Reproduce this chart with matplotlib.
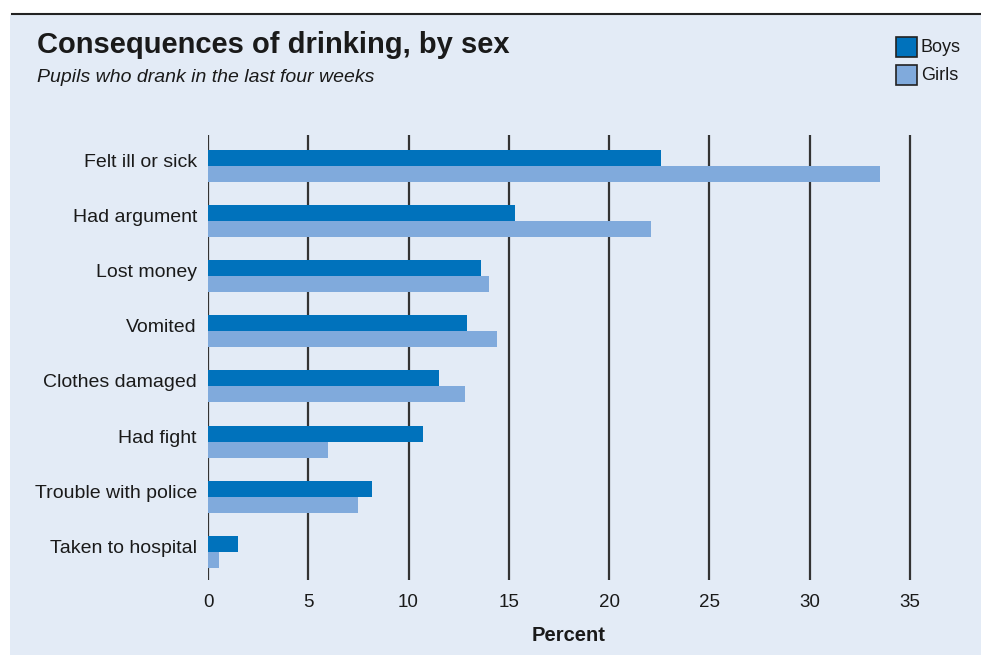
import matplotlib.pyplot as plt
import numpy as np
from matplotlib.patches import Rectangle
from matplotlib.lines import Line2D

# data
categories = ['Felt ill or sick', 'Had argument', 'Lost money', 'Vomited',
              'Clothes damaged', 'Had fight', 'Trouble with police', 'Taken to hospital']
boys = [22.6, 15.3, 13.6, 12.9, 11.5, 10.7, 8.2, 1.5]
girls = [33.5, 22.1, 14.0, 14.4, 12.8, 6.0, 7.5, 0.55]
xticks = [0, 5, 10, 15, 20, 25, 30, 35]

plt.rcParams['font.family'] = ['Liberation Sans', 'DejaVu Sans']

bg = '#E3EBF6'
boy_col = '#0072BC'
girl_col = '#80AADC'
txt = '#1a1a1a'

fig = plt.figure(figsize=(9.81, 6.55), dpi=100)
fig.patch.set_facecolor('white')

# light panel and top rule
fig.patches.append(Rectangle((10 / 981, 0), 1, 1 - 15 / 655, transform=fig.transFigure,
                             facecolor=bg, edgecolor='none', zorder=-10))
fig.lines.append(Line2D([12 / 981, 1], [1 - 14 / 655, 1 - 14 / 655], transform=fig.transFigure,
                        color='#222222', linewidth=1.5))

ax = fig.add_axes([208 / 981, 1 - 580 / 655, (930 - 208) / 981, (580 - 135) / 655])
ax.set_facecolor('none')

y = np.arange(len(categories))
h = 0.29
ax.barh(y - h / 2, boys, height=h, color=boy_col, zorder=3)
ax.barh(y + h / 2, girls, height=h, color=girl_col, zorder=3)

ax.set_xlim(0, 36)
ax.set_ylim(7.51, -0.56)
ax.set_xticks(xticks)
ax.set_xticklabels([str(t) for t in xticks], fontsize=13.5, color=txt)
# labels sit slightly above the group centre, as in the original
ax.set_yticks(y - 0.1)
ax.set_yticklabels(categories, fontsize=14, color=txt)
ax.tick_params(axis='both', length=0)
ax.tick_params(axis='x', pad=10)
ax.tick_params(axis='y', pad=8)
for s in ax.spines.values():
    s.set_visible(False)
ax.grid(axis='x', color='#333333', linewidth=1.6)
ax.grid(axis='y', visible=False)
ax.set_axisbelow(True)

ax.set_xlabel('Percent', fontsize=14.5, fontweight='bold', color=txt, labelpad=11)

fig.text(37 / 981, 1 - 45 / 655, 'Consequences of drinking, by sex', fontsize=21,
         fontweight='bold', color=txt, va='center', ha='left')
fig.text(37 / 981, 1 - 77 / 655, 'Pupils who drank in the last four weeks', fontsize=14,
         style='italic', color=txt, va='center', ha='left')

# legend boxes
for i, (lab, col) in enumerate([('Boys', boy_col), ('Girls', girl_col)]):
    yc = 47 + i * 28
    fig.patches.append(Rectangle((896 / 981, 1 - (yc + 10) / 655), 21 / 981, 20 / 655,
                                 transform=fig.transFigure, facecolor=col,
                                 edgecolor='#222222', linewidth=1.2))
    fig.text(921 / 981, 1 - yc / 655, lab, fontsize=13, color=txt, va='center', ha='left')

fig.savefig('out.png', dpi=100)
